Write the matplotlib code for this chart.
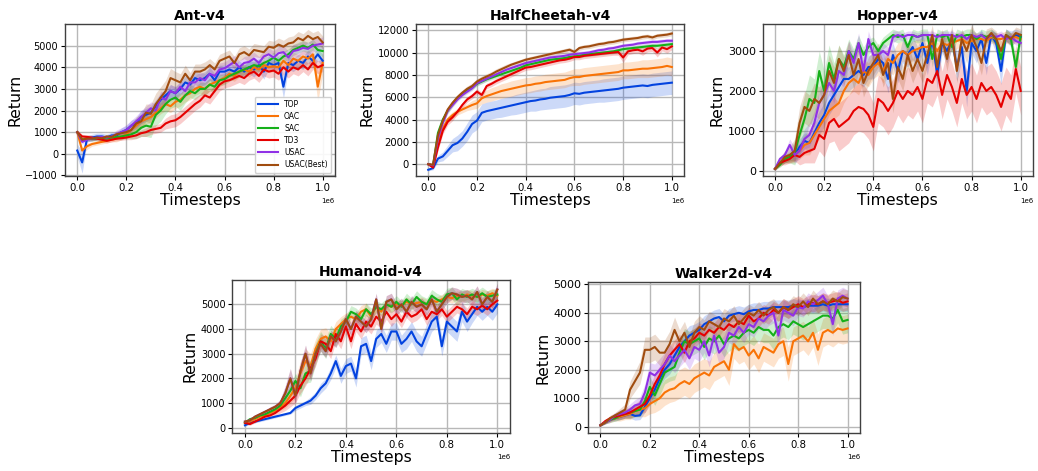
import numpy as np
import matplotlib
matplotlib.use("Agg")
import matplotlib.pyplot as plt

# ==========================================
# data: mean return every 20k steps (51 points), and std for the band
# ==========================================
steps = np.arange(51) * 20000

methods = ["TOP", "OAC", "SAC", "TD3", "USAC", "USAC(Best)"]
colors = ["#0343df", "#f97306", "#15b01a", "#e50000", "#9031e6", "#a04c0f"]

# ---------- Ant-v4 ----------
ant_top = [150, -400, 700, 750, 800, 800, 750, 850, 850, 1000,
           1100, 1300, 1400, 1700, 1800, 1900, 2200, 2500, 2700, 2900,
           2800, 3000, 3300, 3200, 3500, 3400, 3500, 3700, 3400, 3800,
           3800, 3900, 3800, 4000, 3800, 4000, 3900, 4100, 3800, 4200,
           4100, 4200, 3100, 4200, 4100, 4300, 4200, 4500, 4300, 4600,
           4300]
ant_oac = [1000, 150, 350, 450, 500, 550, 600, 650, 700, 800,
           900, 1100, 1300, 1500, 1600, 1700, 1900, 2100, 2300, 2200,
           2400, 2500, 2700, 2800, 3000, 3100, 3000, 3200, 3300, 3400,
           3500, 3700, 3600, 3800, 3900, 3800, 4000, 3900, 4100, 4000,
           4050, 4000, 4300, 4100, 4400, 4300, 4500, 4400, 4600, 3100,
           4200]
ant_sac = [1000, 650, 700, 680, 700, 720, 700, 750, 780, 800,
           850, 900, 1000, 1200, 1300, 1250, 1800, 2000, 2300, 2500,
           2600, 2400, 2700, 2900, 2800, 3000, 3000, 3200, 3100, 3400,
           3450, 3600, 3700, 3800, 3900, 4000, 4100, 4050, 4200, 4300,
           4450, 4300, 4500, 4600, 4800, 4900, 5000, 4900, 5050, 4800,
           4750]
ant_td3 = [1000, 800, 780, 750, 700, 650, 600, 650, 700, 720,
           750, 800, 850, 950, 1000, 1100, 1150, 1200, 1400, 1500,
           1550, 1700, 1900, 2100, 2300, 2450, 2700, 2600, 2900, 3200,
           3350, 3400, 3500, 3600, 3500, 3700, 3800, 3600, 3900, 3800,
           3850, 3700, 4000, 3800, 4000, 3900, 4100, 3900, 4200, 4000,
           4100]
ant_usac = [1000, 550, 650, 700, 750, 780, 750, 800, 900, 1000,
            1100, 1300, 1500, 1700, 1900, 2100, 2000, 2600, 2500, 2900,
            2800, 3100, 2900, 3300, 3300, 3500, 3400, 3700, 3600, 3900,
            3950, 4100, 4250, 4000, 4200, 4250, 4400, 4200, 4500, 4600,
            4450, 4650, 4700, 4450, 4750, 4800, 4900, 4850, 5000, 5050,
            5100]
ant_best = [1000, 650, 700, 700, 750, 720, 800, 780, 900, 950,
            1000, 1100, 1400, 1500, 1900, 1850, 2300, 2600, 2900, 3500,
            3400, 3300, 3700, 3400, 3800, 3800, 3900, 4100, 3900, 4300,
            4400, 4500, 4200, 4600, 4700, 4550, 4800, 4750, 4700, 4950,
            4900, 5050, 4950, 5100, 5150, 5350, 5250, 5450, 5300, 5400,
            5150]

ant_top_sd = [300, 500, 150, 150, 150, 150, 150, 150, 150, 200,
              200, 250, 250, 300, 300, 300, 300, 300, 300, 300,
              300, 300, 300, 300, 300, 300, 300, 300, 300, 300,
              300, 300, 300, 300, 300, 300, 350, 300, 350, 300,
              300, 300, 550, 300, 300, 300, 300, 300, 300, 300,
              300]
ant_oac_sd = [100, 150, 150, 100, 100, 100, 100, 100, 150, 150,
              150, 200, 200, 250, 250, 250, 250, 250, 300, 300,
              300, 300, 300, 300, 300, 300, 300, 300, 300, 300,
              250, 250, 250, 250, 250, 250, 250, 250, 250, 250,
              250, 250, 300, 300, 300, 300, 300, 350, 400, 700,
              500]
ant_sac_sd = [100, 100, 100, 100, 100, 100, 100, 100, 100, 150,
              150, 200, 300, 400, 500, 500, 500, 500, 450, 400,
              400, 400, 350, 300, 300, 300, 300, 300, 250, 250,
              250, 250, 250, 250, 250, 250, 250, 250, 250, 250,
              250, 250, 250, 250, 250, 250, 250, 250, 250, 250,
              250]
ant_td3_sd = [100, 100, 100, 100, 100, 100, 100, 100, 100, 100,
              100, 150, 150, 150, 200, 200, 200, 200, 250, 300,
              300, 300, 300, 300, 300, 300, 300, 300, 300, 300,
              300, 300, 300, 300, 300, 300, 300, 300, 300, 300,
              300, 300, 300, 300, 300, 300, 300, 300, 300, 300,
              300]
ant_usac_sd = [100, 100, 100, 100, 100, 100, 100, 100, 200, 200,
               250, 250, 250, 300, 300, 300, 300, 300, 300, 300,
               300, 300, 300, 300, 300, 300, 300, 300, 300, 300,
               300, 300, 300, 300, 300, 300, 300, 300, 300, 300,
               300, 300, 300, 300, 300, 300, 300, 300, 300, 300,
               300]
ant_best_sd = [100, 100, 100, 100, 100, 100, 100, 100, 150, 150,
               200, 250, 300, 350, 400, 450, 500, 500, 500, 450,
               400, 400, 400, 350, 350, 350, 350, 300, 300, 300,
               300, 300, 300, 300, 300, 300, 300, 300, 300, 300,
               300, 300, 300, 300, 300, 300, 300, 300, 300, 300,
               300]

# ---------- HalfCheetah-v4 ----------
hc_top = [-500, -350, 500, 700, 1200, 1700, 1900, 2300, 2900, 3600,
          3900, 4600, 4750, 4850, 4950, 5050, 5150, 5250, 5350, 5450,
          5550, 5650, 5700, 5800, 5850, 5950, 6000, 6050, 6100, 6200,
          6350, 6300, 6400, 6450, 6500, 6550, 6600, 6650, 6700, 6750,
          6850, 6900, 6950, 7000, 7050, 7000, 7100, 7150, 7200, 7250,
          7300]
hc_oac = [0, -100, 2000, 3200, 4000, 4400, 4700, 4900, 5100, 5300,
          5450, 5900, 6100, 6250, 6400, 6550, 6650, 6750, 6850, 6950,
          7050, 7100, 7200, 7250, 7350, 7400, 7450, 7500, 7550, 7700,
          7800, 7800, 7900, 7950, 8000, 8050, 8100, 8150, 8200, 8250,
          8400, 8400, 8450, 8500, 8550, 8550, 8600, 8650, 8700, 8800,
          8700]
hc_sac = [0, -100, 2800, 4000, 4800, 5400, 5900, 6300, 6600, 6850,
          7200, 7400, 7600, 7750, 7900, 8050, 8200, 8350, 8500, 8650,
          8850, 8950, 9050, 9150, 9250, 9350, 9400, 9450, 9500, 9600,
          9650, 9700, 9800, 9850, 9900, 9950, 10000, 10050, 10100, 10200,
          10300, 10350, 10400, 10450, 10500, 10550, 10600, 10600, 10650, 10700,
          10750]
hc_td3 = [0, -300, 1500, 3000, 3800, 4200, 4700, 5300, 5800, 6100,
          6500, 6200, 7000, 7200, 7450, 7650, 7850, 8050, 8250, 8450,
          8650, 8700, 8800, 8900, 9000, 9100, 9200, 9300, 9350, 9450,
          9600, 9600, 9700, 9750, 9800, 9850, 9900, 9950, 10000, 10050,
          9550, 10100, 10200, 10250, 10100, 10350, 10400, 10000, 10450, 10300,
          10550]
hc_usac = [0, -100, 2300, 3700, 4800, 5300, 5800, 6200, 6500, 6800,
           7250, 7450, 7650, 7850, 8050, 8250, 8450, 8600, 8750, 8900,
           9050, 9150, 9250, 9350, 9450, 9550, 9600, 9650, 9700, 9800,
           9850, 9900, 9950, 10000, 10100, 10200, 10250, 10350, 10400, 10500,
           10600, 10650, 10700, 10800, 10850, 10900, 10950, 10950, 11000, 11050,
           11050]
hc_best = [0, -50, 2600, 3900, 4900, 5500, 6000, 6400, 6750, 7000,
           7400, 7650, 7850, 8050, 8300, 8500, 8700, 8900, 9050, 9200,
           9350, 9450, 9550, 9650, 9750, 9850, 9950, 10050, 10150, 10250,
           10050, 10400, 10500, 10550, 10650, 10750, 10800, 10900, 10950, 11050,
           11150, 11200, 11250, 11300, 11400, 11450, 11350, 11500, 11550, 11600,
           11700]

hc_top_sd = [100, 150, 300, 400, 500, 600, 700, 700, 800, 800,
             800, 800, 800, 800, 800, 850, 850, 850, 900, 900,
             900, 900, 950, 950, 950, 1000, 1000, 1000, 1000, 1000,
             1000, 1000, 1000, 1000, 1000, 1000, 1050, 1050, 1050, 1050,
             1050, 1050, 1050, 1050, 1050, 1050, 1050, 1050, 1050, 1050,
             1050]
hc_oac_sd = [100, 100, 300, 300, 300, 300, 300, 300, 300, 400,
             450, 500, 550, 600, 600, 650, 650, 700, 700, 700,
             700, 700, 700, 700, 700, 700, 700, 700, 700, 700,
             750, 750, 750, 750, 750, 750, 750, 750, 750, 750,
             750, 750, 750, 750, 800, 800, 800, 800, 800, 800,
             800]
hc_sac_sd = [50, 100, 300, 300, 250, 250, 200, 200, 200, 200,
             200, 200, 200, 200, 200, 200, 200, 200, 200, 200,
             200, 200, 200, 200, 200, 200, 200, 200, 200, 200,
             200, 200, 200, 200, 200, 200, 200, 200, 200, 200,
             200, 200, 200, 200, 200, 200, 200, 200, 200, 200,
             200]
hc_td3_sd = [50, 100, 300, 300, 300, 300, 250, 250, 250, 250,
             250, 250, 250, 250, 250, 250, 250, 250, 250, 250,
             250, 250, 250, 250, 250, 250, 250, 250, 250, 250,
             250, 250, 250, 250, 250, 250, 250, 250, 250, 300,
             450, 300, 300, 300, 350, 300, 300, 400, 300, 350,
             300]
hc_usac_sd = [50, 100, 300, 300, 250, 200, 200, 200, 200, 200,
              200, 200, 200, 200, 200, 200, 200, 200, 200, 200,
              200, 200, 200, 200, 200, 200, 200, 200, 200, 200,
              200, 200, 200, 200, 200, 200, 200, 200, 200, 200,
              200, 200, 200, 200, 200, 200, 200, 200, 200, 200,
              200]
hc_best_sd = [50, 100, 300, 300, 250, 250, 250, 250, 250, 250,
              250, 250, 250, 250, 250, 250, 250, 200, 200, 200,
              200, 200, 200, 200, 200, 200, 200, 200, 200, 200,
              200, 200, 200, 200, 200, 200, 200, 200, 200, 200,
              200, 200, 200, 200, 200, 200, 200, 200, 200, 200,
              200]

# ---------- Hopper-v4 ----------
hop_top = [50, 200, 300, 350, 400, 600, 750, 700, 950, 1200,
           1400, 1700, 1900, 2100, 2300, 2300, 2400, 2500, 2400, 2600,
           2600, 2800, 2700, 2300, 2900, 2500, 3000, 2900, 3100, 2800,
           3200, 2700, 3300, 2400, 3200, 3000, 3300, 2600, 3100, 2000,
           3200, 3000, 3300, 2700, 3400, 3200, 2500, 3400, 3300, 3400,
           3350]
hop_oac = [50, 200, 300, 350, 400, 500, 650, 700, 900, 1100,
           1300, 1500, 1600, 1700, 2000, 2200, 2300, 2200, 2500, 2400,
           2600, 2700, 2500, 2800, 2700, 2900, 3000, 2900, 3000, 3050,
           3100, 3100, 3200, 3000, 3200, 3150, 3200, 3250, 3300, 3200,
           3250, 3300, 3300, 3250, 3350, 3300, 3300, 3350, 3300, 3350,
           3300]
hop_sac = [50, 150, 300, 350, 450, 900, 1300, 1800, 1700, 2500,
           2000, 2700, 2300, 2800, 2600, 3000, 2800, 3200, 2900, 3100,
           3200, 3000, 3200, 3300, 3400, 3350, 3400, 3100, 3400, 3350,
           3400, 3400, 2800, 3400, 3350, 3400, 3100, 3400, 3350, 3400,
           3400, 3300, 3400, 3350, 3400, 3300, 2800, 3400, 3300, 2600,
           3400]
hop_td3 = [50, 200, 250, 300, 400, 350, 450, 500, 550, 900,
           800, 1200, 1300, 1100, 1200, 1300, 1500, 1600, 1550, 1400,
           1100, 1800, 1700, 1500, 1700, 2000, 1800, 2000, 1900, 2100,
           1800, 2300, 2200, 2500, 1900, 2400, 2100, 1700, 2300, 1900,
           2100, 1800, 2200, 2000, 2100, 1900, 1600, 2000, 1800, 2550,
           2000]
hop_usac = [50, 300, 400, 650, 400, 500, 800, 900, 1200, 1700,
            1900, 2200, 2000, 2500, 2400, 3000, 2700, 3200, 2500, 3300,
            2900, 2900, 3000, 2900, 3350, 3400, 3350, 3400, 3400, 3350,
            3400, 3400, 3400, 3350, 3400, 3400, 3400, 3350, 3400, 3300,
            3400, 3350, 3400, 3300, 3400, 3350, 3400, 3300, 3350, 3250,
            3200]
hop_best = [50, 200, 350, 400, 500, 1200, 1600, 1500, 1800, 1700,
            1900, 2500, 2200, 2800, 2500, 2900, 2400, 2800, 2200, 2500,
            2700, 2900, 2400, 2700, 1800, 2600, 2300, 2900, 2500, 2800,
            2500, 2900, 3400, 2600, 3300, 2800, 3400, 2500, 3300, 3000,
            3400, 3100, 2700, 3300, 3450, 3300, 3000, 3400, 3300, 3450,
            3400]

hop_top_sd = [30, 50, 100, 100, 150, 200, 200, 250, 300, 300,
              300, 300, 300, 300, 300, 300, 300, 300, 300, 300,
              300, 300, 300, 350, 300, 300, 300, 300, 300, 300,
              250, 300, 250, 350, 250, 300, 250, 350, 300, 400,
              250, 300, 250, 300, 150, 250, 350, 150, 200, 150,
              150]
hop_oac_sd = [30, 50, 100, 100, 150, 200, 250, 300, 300, 300,
              300, 300, 300, 300, 300, 300, 300, 300, 300, 300,
              300, 300, 300, 300, 300, 300, 250, 250, 250, 250,
              200, 200, 200, 200, 200, 200, 200, 200, 150, 150,
              150, 150, 150, 150, 150, 150, 150, 150, 150, 150,
              150]
hop_sac_sd = [30, 50, 100, 150, 300, 500, 600, 600, 600, 500,
              500, 450, 400, 350, 300, 300, 250, 200, 200, 200,
              150, 150, 150, 150, 150, 150, 150, 150, 150, 150,
              150, 150, 200, 150, 150, 150, 150, 150, 150, 150,
              150, 150, 150, 150, 150, 150, 200, 150, 150, 250,
              150]
hop_td3_sd = [30, 50, 100, 100, 150, 200, 250, 300, 350, 400,
              450, 500, 550, 600, 600, 600, 600, 600, 600, 600,
              600, 600, 600, 600, 600, 600, 600, 600, 600, 600,
              600, 600, 600, 600, 600, 600, 600, 600, 600, 600,
              600, 600, 600, 600, 600, 600, 600, 600, 600, 600,
              600]
hop_usac_sd = [30, 50, 100, 150, 200, 200, 250, 300, 300, 300,
               300, 300, 300, 300, 300, 250, 250, 250, 250, 200,
               200, 200, 200, 200, 150, 100, 100, 100, 100, 100,
               100, 100, 100, 100, 100, 100, 100, 100, 100, 100,
               100, 100, 100, 100, 100, 100, 100, 100, 100, 100,
               100]
hop_best_sd = [30, 100, 150, 200, 300, 400, 400, 400, 400, 400,
               400, 400, 400, 350, 350, 350, 350, 350, 350, 350,
               300, 300, 300, 300, 350, 300, 300, 300, 300, 300,
               300, 300, 250, 300, 250, 300, 250, 300, 250, 300,
               250, 300, 300, 250, 150, 200, 250, 150, 150, 150,
               150]

# ---------- Humanoid-v4 ----------
hum_top = [100, 200, 250, 300, 350, 400, 450, 500, 550, 600,
           800, 900, 1000, 1100, 1300, 1600, 1800, 2200, 2700, 2100,
           2500, 2600, 2000, 3300, 3400, 2700, 3600, 3800, 3400, 3900,
           3900, 3400, 3600, 3900, 3500, 3300, 3800, 4300, 4500, 3300,
           4300, 4100, 3900, 4700, 4300, 4600, 4900, 4700, 4900, 4700,
           5000]
hum_oac = [200, 250, 350, 450, 500, 600, 700, 850, 1000, 1300,
           1600, 2200, 2700, 2500, 3200, 3600, 3700, 3500, 4000, 4200,
           4400, 4500, 4400, 4700, 4800, 4500, 4900, 4700, 5000, 4900,
           5000, 4950, 5100, 5000, 5050, 5100, 5000, 5150, 5100, 5200,
           5300, 5250, 5350, 5300, 5400, 5350, 5300, 5400, 5350, 5450,
           5350]
hum_sac = [200, 350, 400, 500, 550, 650, 750, 900, 1200, 1500,
           1900, 1600, 2200, 2300, 3000, 3500, 3200, 3800, 3600, 4100,
           4300, 4700, 4600, 4400, 4800, 4600, 4900, 4800, 5000, 4900,
           5100, 4900, 5200, 5000, 5300, 5100, 5000, 5350, 5200, 5100,
           5400, 5450, 5200, 5400, 5300, 5400, 5300, 5450, 5300, 5350,
           5400]
hum_td3 = [200, 150, 250, 350, 450, 500, 600, 750, 900, 1100,
           1300, 1700, 2000, 2400, 2800, 3500, 3400, 3100, 3800, 3500,
           4100, 3500, 4200, 3900, 4300, 4100, 4500, 4300, 4700, 4400,
           4600, 4300, 4700, 4500, 4600, 4800, 4400, 4700, 4600, 4800,
           4500, 4700, 4900, 4800, 4600, 4900, 4800, 4950, 4800, 5000,
           5150]
hum_best = [250, 300, 450, 550, 650, 750, 850, 1000, 1400, 2000,
            1300, 2300, 3000, 2200, 3000, 3400, 3100, 3700, 3500, 3900,
            4400, 4000, 4500, 4300, 4100, 4400, 5200, 4000, 5100, 5200,
            4800, 5000, 4700, 5100, 4900, 5000, 4800, 5200, 4700, 5000,
            5300, 5450, 5400, 5300, 5350, 5200, 5500, 5000, 5300, 5100,
            5600]
# on Humanoid the best USAC run is the USAC run itself
hum_usac = list(hum_best)

hum_top_sd = [50, 50, 50, 50, 50, 50, 50, 50, 50, 50,
              100, 100, 100, 150, 150, 200, 200, 250, 250, 300,
              300, 300, 350, 350, 350, 350, 350, 350, 350, 350,
              350, 350, 400, 400, 400, 400, 400, 400, 400, 400,
              400, 400, 400, 400, 400, 350, 350, 350, 350, 350,
              350]
hum_oac_sd = [50, 50, 50, 50, 50, 100, 100, 150, 200, 300,
              400, 500, 500, 500, 400, 400, 350, 300, 300, 300,
              250, 250, 250, 250, 250, 200, 200, 200, 200, 200,
              200, 200, 200, 200, 200, 200, 200, 200, 200, 200,
              200, 200, 200, 200, 200, 200, 200, 200, 200, 200,
              200]
hum_sac_sd = [50, 50, 50, 50, 50, 100, 100, 150, 200, 250,
              300, 350, 400, 450, 450, 400, 400, 350, 300, 300,
              250, 250, 250, 250, 250, 250, 250, 250, 250, 250,
              250, 250, 250, 250, 250, 250, 250, 250, 250, 250,
              250, 250, 250, 250, 250, 250, 250, 250, 250, 250,
              250]
hum_td3_sd = [50, 50, 50, 50, 50, 100, 100, 150, 200, 250,
              300, 300, 300, 300, 300, 300, 300, 300, 300, 300,
              300, 300, 300, 300, 300, 300, 300, 300, 300, 300,
              250, 250, 250, 250, 250, 250, 250, 250, 250, 250,
              250, 250, 250, 250, 250, 250, 250, 250, 250, 250,
              250]
hum_usac_sd = [50, 50, 50, 50, 50, 100, 100, 150, 300, 400,
               300, 350, 350, 300, 300, 300, 250, 250, 250, 250,
               250, 250, 250, 250, 250, 250, 250, 250, 250, 250,
               250, 250, 250, 250, 250, 250, 250, 250, 250, 250,
               250, 250, 250, 250, 250, 250, 250, 250, 250, 250,
               250]
hum_best_sd = list(hum_usac_sd)

# ---------- Walker2d-v4 ----------
wk_top = [50, 150, 250, 300, 350, 400, 450, 380, 400, 700,
          1000, 1300, 1700, 2000, 2200, 2500, 2800, 3000, 3200, 3300,
          3400, 3600, 3700, 3800, 3850, 3700, 3900, 3950, 4000, 3950,
          4050, 4100, 4100, 4150, 4150, 4200, 4200, 4200, 4200, 4250,
          4200, 4200, 4250, 4250, 4250, 4300, 4250, 4300, 4300, 4300,
          4300]
wk_oac = [50, 150, 250, 300, 350, 400, 450, 550, 600, 650,
          800, 900, 1000, 1200, 1300, 1350, 1500, 1600, 1500, 1700,
          1800, 1900, 1800, 2100, 2200, 2300, 2000, 2900, 2700, 2800,
          2500, 2700, 2400, 2800, 2700, 2600, 2900, 3000, 2200, 3000,
          3100, 3200, 3000, 3300, 2700, 3300, 3400, 3300, 3450, 3400,
          3450]
wk_sac = [50, 150, 250, 300, 400, 450, 500, 550, 600, 900,
          1400, 1100, 1500, 1900, 2000, 2100, 2600, 3000, 2900, 3000,
          3100, 2800, 3100, 3000, 3200, 2900, 3100, 3200, 3100, 3300,
          3400, 3300, 3500, 3400, 3400, 3200, 3500, 3600, 3500, 3700,
          3600, 3500, 3600, 3700, 3800, 3900, 3900, 3800, 4100, 3700,
          3750]
wk_td3 = [50, 200, 300, 350, 400, 450, 500, 600, 700, 800,
          1100, 1500, 1800, 2200, 2500, 2700, 2900, 2600, 3000, 3100,
          3300, 3200, 3400, 3300, 3500, 3400, 3600, 3500, 3700, 3600,
          3900, 3700, 3800, 4000, 3900, 4100, 4000, 4200, 4100, 4200,
          4300, 4200, 4300, 4350, 4300, 4400, 4350, 4400, 4450, 4350,
          4400]
wk_usac = [50, 150, 250, 400, 450, 500, 600, 750, 800, 1200,
           1900, 1800, 2000, 2200, 2500, 2300, 2500, 2700, 2400, 2800,
           2700, 3000, 2500, 3200, 2600, 2800, 3300, 3200, 3500, 3300,
           3600, 3500, 3800, 3700, 3900, 4000, 3200, 4100, 4000, 3900,
           4200, 4150, 4400, 4300, 4450, 4600, 4300, 3600, 4500, 4600,
           4500]
wk_best = [50, 150, 300, 400, 500, 600, 1300, 1600, 1900, 2700,
           2700, 2800, 2600, 2600, 2900, 3400, 3000, 3300, 2800, 3300,
           3500, 3400, 3700, 3600, 3500, 3800, 3700, 3900, 3600, 3800,
           4000, 3900, 4100, 3900, 4100, 4200, 4000, 4200, 4100, 4300,
           4200, 4400, 4200, 4500, 4300, 4400, 4300, 4500, 4400, 4550,
           4500]

wk_top_sd = [30, 50, 50, 100, 100, 100, 150, 150, 150, 200,
             250, 300, 300, 300, 350, 350, 350, 350, 350, 300,
             300, 300, 300, 300, 300, 250, 250, 250, 250, 250,
             250, 250, 250, 250, 250, 250, 250, 250, 250, 250,
             250, 250, 250, 250, 250, 250, 250, 250, 250, 250,
             250]
wk_oac_sd = [30, 50, 100, 100, 150, 150, 200, 200, 250, 300,
             350, 400, 400, 450, 450, 450, 500, 500, 500, 500,
             500, 500, 500, 500, 500, 500, 550, 500, 500, 500,
             500, 500, 500, 500, 500, 500, 500, 500, 600, 500,
             500, 500, 500, 500, 550, 500, 500, 500, 500, 500,
             500]
wk_sac_sd = [30, 50, 100, 100, 150, 150, 200, 200, 250, 300,
             350, 350, 400, 400, 400, 450, 450, 450, 450, 450,
             450, 450, 450, 450, 450, 450, 450, 450, 450, 450,
             450, 450, 450, 450, 450, 500, 450, 450, 450, 450,
             450, 450, 450, 450, 450, 450, 450, 450, 450, 450,
             450]
wk_td3_sd = [30, 50, 100, 100, 150, 150, 200, 200, 250, 300,
             300, 350, 350, 350, 350, 350, 350, 350, 350, 350,
             350, 350, 350, 350, 350, 350, 350, 350, 350, 350,
             300, 300, 300, 300, 300, 300, 300, 300, 300, 300,
             300, 300, 300, 300, 300, 300, 300, 300, 300, 300,
             300]
wk_usac_sd = [30, 50, 100, 100, 150, 150, 200, 200, 250, 300,
              350, 400, 400, 400, 400, 400, 400, 400, 400, 400,
              400, 400, 400, 400, 400, 400, 350, 350, 350, 350,
              350, 350, 350, 350, 350, 350, 400, 350, 350, 350,
              300, 300, 300, 300, 300, 300, 300, 400, 300, 300,
              300]
wk_best_sd = [30, 50, 100, 100, 150, 200, 300, 350, 400, 450,
              450, 450, 450, 450, 450, 450, 400, 400, 400, 400,
              400, 350, 350, 350, 350, 350, 350, 350, 350, 350,
              300, 300, 300, 300, 300, 300, 300, 300, 300, 300,
              300, 300, 300, 300, 300, 300, 300, 300, 300, 300,
              300]

# ==========================================
# layout (figure fractions) and per-panel settings
# ==========================================
envs = [
    ("Ant-v4", [ant_top, ant_oac, ant_sac, ant_td3, ant_usac, ant_best],
     [ant_top_sd, ant_oac_sd, ant_sac_sd, ant_td3_sd, ant_usac_sd, ant_best_sd],
     [0.0626, 0.6253, 0.2601, 0.3237], (-1050, 6000), [-1000, 0, 1000, 2000, 3000, 4000, 5000], 7.0),
    ("HalfCheetah-v4", [hc_top, hc_oac, hc_sac, hc_td3, hc_usac, hc_best],
     [hc_top_sd, hc_oac_sd, hc_sac_sd, hc_td3_sd, hc_usac_sd, hc_best_sd],
     [0.4008, 0.6253, 0.2582, 0.3237], (-1100, 12550), [0, 2000, 4000, 6000, 8000, 10000, 12000], 7.2),
    ("Hopper-v4", [hop_top, hop_oac, hop_sac, hop_td3, hop_usac, hop_best],
     [hop_top_sd, hop_oac_sd, hop_sac_sd, hop_td3_sd, hop_usac_sd, hop_best_sd],
     [0.7348, 0.6253, 0.2604, 0.3237], (-140, 3675), [0, 1000, 2000, 3000], 8.0),
    ("Humanoid-v4", [hum_top, hum_oac, hum_sac, hum_td3, hum_usac, hum_best],
     [hum_top_sd, hum_oac_sd, hum_sac_sd, hum_td3_sd, hum_usac_sd, hum_best_sd],
     [0.2238, 0.0813, 0.2675, 0.3242], (-200, 5985), [0, 1000, 2000, 3000, 4000, 5000], 7.0),
    ("Walker2d-v4", [wk_top, wk_oac, wk_sac, wk_td3, wk_usac, wk_best],
     [wk_top_sd, wk_oac_sd, wk_sac_sd, wk_td3_sd, wk_usac_sd, wk_best_sd],
     [0.5665, 0.0813, 0.2620, 0.3193], (-210, 5070), [0, 1000, 2000, 3000, 4000, 5000], 8.0),
]

fig = plt.figure(figsize=(10.38, 4.71), dpi=100)

for k, (name, means, sds, rect, ylim, yticks, ytick_fs) in enumerate(envs):
    ax = fig.add_axes(rect)
    for m, sd, c, lab in zip(means, sds, colors, methods):
        m = np.array(m, dtype=float)
        sd = np.array(sd, dtype=float)
        ax.fill_between(steps, m - sd, m + sd, color=c, alpha=0.2, linewidth=0)
        ax.plot(steps, m, color=c, linewidth=1.5, label=lab)
    ax.set_xlim(-0.05e6, 1.05e6)
    ax.set_ylim(*ylim)
    ax.set_yticks(yticks)
    ax.set_xticks([0, 0.2e6, 0.4e6, 0.6e6, 0.8e6, 1.0e6])
    ax.grid(True, color="#b8b8b8", linewidth=1.0)
    ax.set_axisbelow(True)
    ax.set_title(name, fontsize=10, fontweight="bold", pad=3)
    ax.set_xlabel("Timesteps", fontsize=11.3, labelpad=0)
    ax.set_ylabel("Return", fontsize=11.3, labelpad=2)
    ax.tick_params(axis="x", labelsize=7.3, length=3, pad=2)
    ax.tick_params(axis="y", labelsize=ytick_fs, length=3, pad=2)
    ax.xaxis.get_offset_text().set_fontsize(5)
    for s in ax.spines.values():
        s.set_edgecolor("#404040")
        s.set_linewidth(1.0)
    if k == 0:
        ax.legend(loc="lower right", fontsize=5.5, handlelength=2.6,
                  labelspacing=0.4, borderpad=0.45, framealpha=0.9)

plt.savefig("out.png", dpi=100)
